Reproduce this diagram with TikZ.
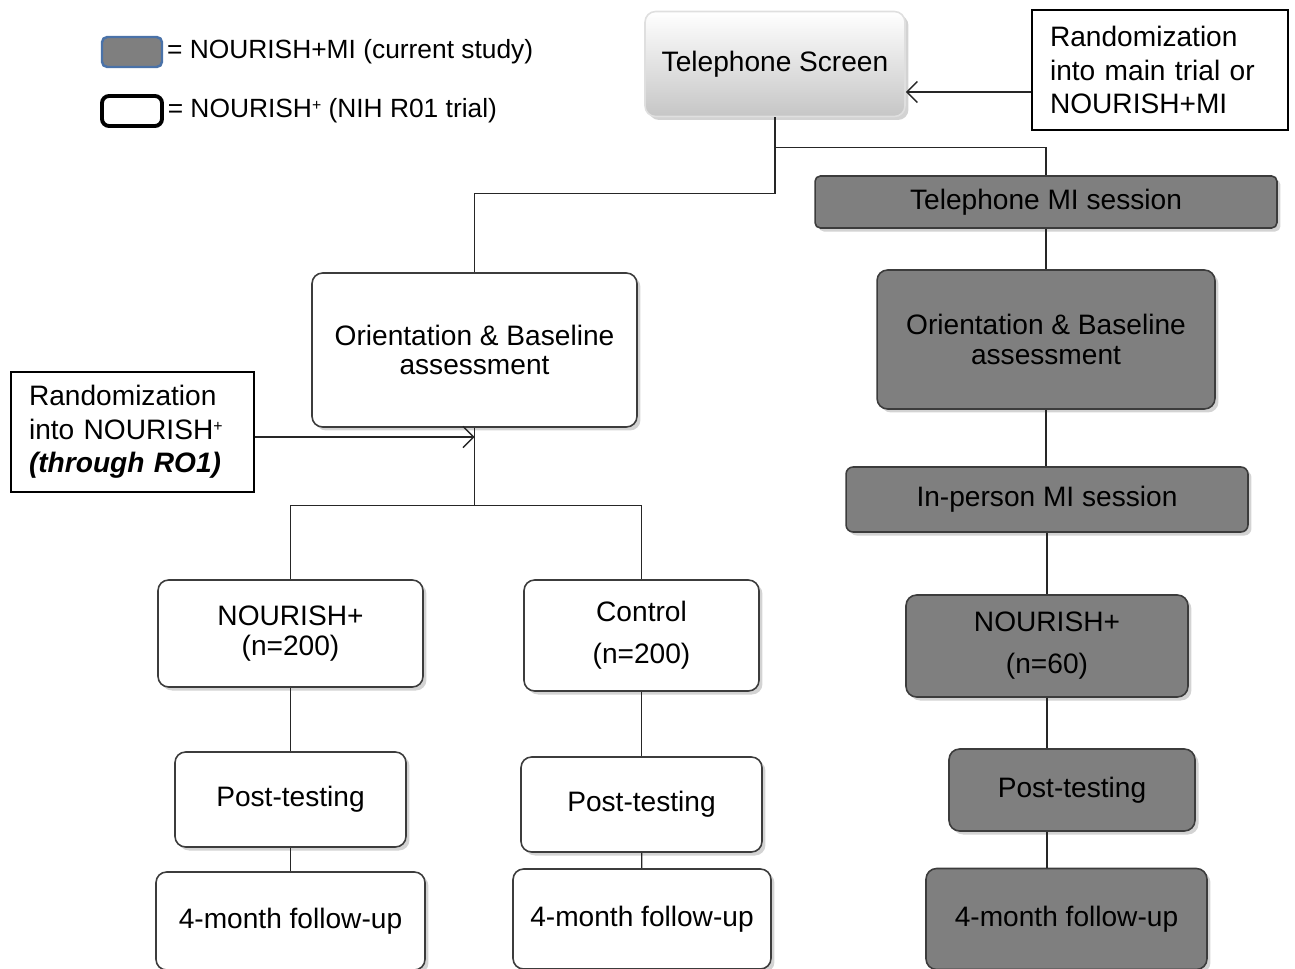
\documentclass[tikz,border=0pt]{standalone}
\usepackage{fontspec}
\setmainfont{Liberation Sans}
\usetikzlibrary{arrows.meta,positioning,calc,shadows}
\definecolor{boxgray}{RGB}{127,127,127}
\definecolor{edgegray}{RGB}{60,60,60}
\definecolor{legblue}{RGB}{74,114,168}
\newcommand{\suplus}{\raisebox{0.55ex}{\fontsize{9}{9}\selectfont+}}

\begin{document}
\begin{tikzpicture}[x=0.02cm,y=-0.02cm,font=\fontsize{16}{17}\selectfont,
  >={Straight Barb[length=6pt,width=12pt]},
  conn/.style={draw=black!85,line width=0.8pt},
  arm/.style={rectangle,draw=edgegray,line width=0.9pt,rounded corners=6pt,fill=white,
              align=center,drop shadow={shadow xshift=2pt,shadow yshift=-2pt,opacity=0.35}},
  mi/.style={arm,fill=boxgray},
  note/.style={rectangle,draw=black,line width=0.7pt,fill=white,align=left,
               inner xsep=0.36cm,font=\fontsize{16}{19}\selectfont},
  legbox/.style={rectangle,minimum width=1.2cm,minimum height=0.6cm,inner sep=0pt},
  legtext/.style={anchor=west,inner sep=2pt,font=\fontsize{15}{17}\selectfont}]
\path[use as bounding box,clip] (0,0) rectangle (1295,969);

% legend
\node[legbox,draw=legblue,line width=1.4pt,fill=boxgray,rounded corners=3pt] (lgm) at (132,52) {};
\node[legtext] (lgmt) at (lgm.east) {= NOURISH+MI (current study)};
\node[legbox,draw=black,line width=2.2pt,fill=white,rounded corners=4pt] (lgw) at (132,111) {};
\node[legtext] (lgwt) at (lgw.east) {= NOURISH\suplus{} (NIH R01 trial)};

% screening
\node[arm,draw=gray!25,shading=axis,top color=white,bottom color=gray!45,
      minimum width=5.2cm,minimum height=2.1cm] (ts) at (775,64) {Telephone Screen};
\node[note,text width=4.4cm,minimum height=2.4cm] (rt) at (1160,70)
  {Randomization\\into main trial or\\NOURISH+MI};

% NOURISH+MI arm
\node[mi,minimum width=9.24cm,minimum height=1.04cm,rounded corners=3pt] (tmi) at (1046,202) {Telephone MI session};
\node[mi,minimum width=6.76cm,minimum height=2.78cm] (obr) at (1046,339.5) {Orientation \& Baseline\\assessment};
\node[mi,minimum width=8.04cm,minimum height=1.3cm,rounded corners=4pt] (ipm) at (1047,499.5) {In-person MI session};
\node[mi,minimum width=5.64cm,minimum height=2.04cm] (nr) at (1047,646) {NOURISH+\\[7pt](n=60)};
\node[mi,minimum width=4.92cm,minimum height=1.64cm] (ptr) at (1072,790) {Post-testing};
\node[mi,minimum width=5.62cm,minimum height=2.02cm] (fur) at (1066.5,919) {4-month follow-up};

% R01 trial
\node[arm,minimum width=6.5cm,minimum height=3.08cm] (obl) at (474.5,350) {Orientation \& Baseline\\assessment};
\node[note,text width=4.14cm,minimum height=2.4cm] (rl) at (132.5,432)
  {Randomization\\into NOURISH\suplus\\\textbf{\textit{(through RO1)}}};
\node[arm,minimum width=5.3cm,minimum height=2.14cm] (nl) at (290.5,633.5) {NOURISH+\\(n=200)};
\node[arm,minimum width=4.7cm,minimum height=2.22cm] (cl) at (641.5,635.5) {Control\\[7pt](n=200)};
\node[arm,minimum width=4.62cm,minimum height=1.9cm] (ptl) at (290.5,799.5) {Post-testing};
\node[arm,minimum width=4.82cm,minimum height=1.9cm] (ptm) at (641.5,804.5) {Post-testing};
\node[arm,minimum width=5.38cm,minimum height=1.96cm] (ful) at (290.5,921) {4-month follow-up};
\node[arm,minimum width=5.16cm,minimum height=2.0cm] (fum) at (642,919) {4-month follow-up};

% connectors
\draw[conn] (ts.south) -- ++(0,30) coordinate (sp) -| (tmi.north);
\draw[conn] (sp) -- ++(0,46) -| (obl.north);
\path (rt.west) ++(0,22) coordinate (rtin);
\draw[conn,->] (rtin) -- (rtin -| ts.east);

\draw[conn] (tmi) -- (obr);
\draw[conn] (obr.south) -- (obr.south |- ipm.north);
\draw[conn] (ipm) -- (nr);
\draw[conn,line width=1.3pt] (nr.south) -- (nr.south |- ptr.north);
\draw[conn,line width=1.3pt] (nr.south |- ptr.south) -- (nr.south |- fur.north);

\path (rl.east) ++(0,5) coordinate (rlin);
\draw[conn,->] (rlin) -- (rlin -| obl.south);
\draw[conn] (obl.south) -- ++(0,78) coordinate (sq);
\draw[conn] (sq) -| (nl.north);
\draw[conn] (sq) -| (cl.north);
\draw[conn] (nl) -- (ptl);
\draw[conn] (ptl) -- (ful);
\draw[conn] (cl) -- (ptm);
\draw[conn] (ptm) -- (fum);
\end{tikzpicture}
\end{document}
